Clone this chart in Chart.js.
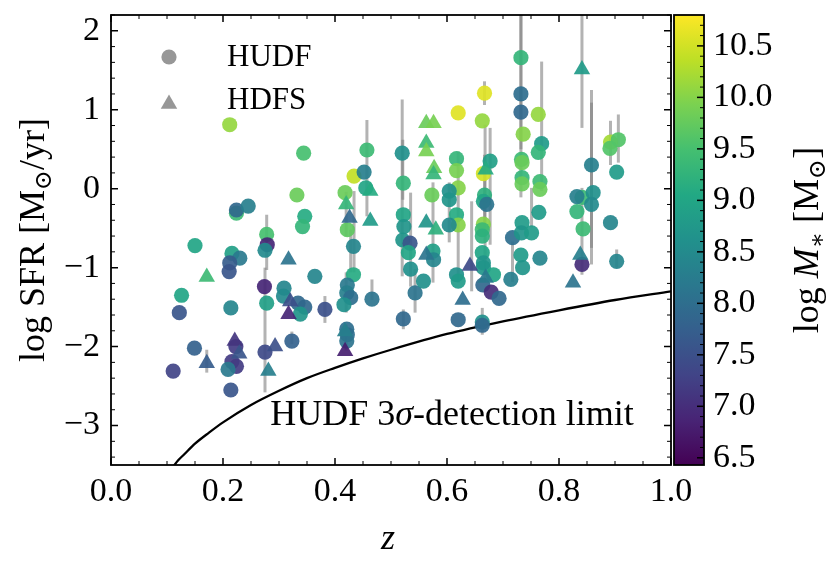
<!DOCTYPE html>
<html>
<head>
<meta charset="utf-8">
<script src="https://cdn.jsdelivr.net/npm/chart.js@4.4.1/dist/chart.umd.min.js"></script>
<style>
  html, body { margin: 0; padding: 0; background: #fff; }
</style>
</head>
<body>
<canvas id="chart" width="831" height="562"></canvas>
<script>
// HUDF galaxies (circles): redshift, log SFR, log stellar mass
const hudfZ = [0.212, 0.344, 0.457, 0.434, 0.452, 0.455, 0.418, 0.332, 0.422, 0.224,
  0.224, 0.245, 0.346, 0.342, 0.278, 0.279, 0.275, 0.150, 0.216, 0.230,
  0.212, 0.211, 0.364, 0.274, 0.309, 0.308, 0.126, 0.278, 0.334, 0.346,
  0.338, 0.214, 0.122, 0.382, 0.433, 0.433, 0.422, 0.421, 0.428, 0.416,
  0.466, 0.421, 0.422, 0.421, 0.223, 0.216, 0.224, 0.209, 0.214, 0.149,
  0.111, 0.275, 0.323, 0.520, 0.522, 0.522, 0.523, 0.521, 0.534, 0.531,
  0.535, 0.543, 0.522, 0.573, 0.575, 0.576, 0.558, 0.620, 0.617, 0.617,
  0.620, 0.604, 0.604, 0.617, 0.620, 0.604, 0.617, 0.620, 0.620, 0.667,
  0.663, 0.677, 0.665, 0.667, 0.665, 0.671, 0.665, 0.663, 0.663, 0.663,
  0.665, 0.665, 0.683, 0.664, 0.679, 0.693, 0.663, 0.663, 0.732, 0.732,
  0.732, 0.736, 0.733, 0.734, 0.734, 0.734, 0.763, 0.769, 0.763, 0.766,
  0.766, 0.764, 0.717, 0.714, 0.734, 0.733, 0.751, 0.732, 0.735, 0.766,
  0.892, 0.906, 0.891, 0.903, 0.858, 0.841, 0.832, 0.861, 0.858, 0.832,
  0.843, 0.892, 0.841, 0.903];
const hudfSfr = [0.81, 0.45, 0.49, 0.16, 0.21, 0.01, -0.05, -0.08, -0.52, -0.31,
  -0.27, -0.22, -0.35, -0.48, -0.58, -0.71, -0.78, -0.72, -0.82, -0.88,
  -0.94, -1.05, -1.11, -1.24, -1.26, -1.36, -1.35, -1.45, -1.45, -1.50,
  -1.59, -1.51, -1.57, -1.53, -0.73, -1.09, -1.22, -1.32, -1.38, -1.47,
  -1.40, -1.78, -1.85, -1.93, -2.00, -2.19, -2.25, -2.29, -2.55, -2.02,
  -2.31, -2.07, -1.93, 0.45, 0.07, -0.33, -0.48, -0.65, -0.69, -0.81,
  -1.02, -1.32, -1.65, -0.08, -0.79, -0.90, -1.17, 0.96, 0.38, 0.23,
  0.01, -0.03, -0.14, -0.33, -0.46, -0.46, -1.09, -1.17, -1.66, 1.21,
  0.86, 0.35, 0.19, -0.08, -0.16, -0.20, -0.45, -0.52, -0.60, -0.81,
  -0.94, -1.00, -1.09, -1.22, -1.31, -1.39, -1.69, -1.73, 1.66, 1.20,
  0.97, 0.69, 0.37, 0.33, 0.14, 0.06, 0.94, 0.57, 0.46, 0.09,
  -0.01, -0.30, -0.62, -1.15, -0.43, -0.56, -0.56, -0.84, -1.00, -0.88,
  0.59, 0.62, 0.51, 0.21, 0.30, -0.11, -0.10, -0.05, -0.20, -0.29,
  -0.51, -0.43, -0.96, -0.92];
const hudfMass = [10.1, 9.5, 9.4, 10.4, 8.3, 9.0, 9.8, 9.8, 9.7, 9.4,
  7.9, 8.3, 9.1, 9.3, 9.5, 6.9, 8.5, 9.0, 8.9, 8.2,
  7.7, 7.6, 8.4, 6.9, 8.4, 8.5, 9.0, 8.9, 7.9, 7.9,
  8.7, 8.4, 7.6, 7.5, 8.4, 9.1, 8.2, 8.3, 8.0, 8.6,
  8.1, 8.0, 8.0, 8.1, 7.2, 7.2, 7.2, 8.2, 7.6, 7.8,
  7.3, 7.4, 7.8, 8.6, 9.3, 9.0, 8.7, 8.7, 7.6, 9.0,
  8.6, 8.1, 7.9, 9.8, 8.9, 8.4, 8.6, 10.6, 9.3, 9.9,
  10.0, 8.6, 8.7, 9.1, 10.0, 8.5, 8.6, 8.8, 7.9, 10.6,
  10.1, 8.9, 10.5, 9.2, 9.0, 8.1, 10.0, 9.4, 9.2, 9.0,
  8.7, 8.7, 9.0, 7.9, 7.0, 7.9, 8.6, 7.9, 9.3, 8.0,
  7.9, 10.0, 9.4, 9.8, 9.3, 9.8, 10.1, 8.8, 9.3, 9.4,
  9.8, 8.8, 8.0, 8.3, 8.8, 8.7, 8.8, 8.8, 8.7, 8.4,
  10.2, 9.6, 9.6, 8.8, 8.3, 9.4, 8.3, 8.6, 8.5, 9.3,
  9.4, 8.4, 7.0, 8.4];

// HDFS galaxies (triangles)
const hdfsZ = [0.420, 0.426, 0.463, 0.463, 0.171, 0.317, 0.320, 0.317, 0.418, 0.418,
  0.221, 0.229, 0.171, 0.293, 0.281, 0.563, 0.576, 0.563, 0.563, 0.577,
  0.576, 0.563, 0.580, 0.563, 0.628, 0.641, 0.669, 0.669, 0.841, 0.838,
  0.825];
const hdfsSfr = [-0.20, -0.37, -0.41, -0.03, -1.12, -0.90, -1.43, -1.59, -1.81, -2.06,
  -1.93, -2.09, -2.21, -2.00, -2.31, 0.83, 0.83, 0.58, 0.47, 0.26,
  0.18, -0.43, -0.52, -0.84, -1.41, -0.98, 0.24, -1.13, 1.51, -0.84,
  -1.19];
const hdfsMass = [9.3, 7.9, 8.8, 9.1, 9.4, 8.1, 7.5, 6.9, 8.3, 6.8,
  7.1, 7.6, 7.7, 7.5, 8.3, 9.8, 9.9, 9.4, 9.9, 9.8,
  9.3, 8.7, 9.2, 8.1, 8.0, 7.4, 9.1, 8.2, 8.8, 8.3,
  8.1];

// SFR uncertainties (vertical bars): redshift, lower and upper log SFR
const barZ = [0.457, 0.434, 0.428, 0.466, 0.420, 0.420, 0.420, 0.520, 0.521, 0.535,
  0.543, 0.575, 0.604, 0.620, 0.667, 0.668, 0.667, 0.677, 0.663, 0.644,
  0.732, 0.732, 0.769, 0.717, 0.751, 0.841, 0.858, 0.858, 0.892, 0.906,
  0.841, 0.903, 0.278, 0.275, 0.171, 0.382, 0.323, 0.522];
const barLo = [-0.35, -1.06, -1.06, -1.41, -1.57, -0.60, -2.05, -1.11, -0.14, -1.24,
  -1.57, -1.19, -0.68, -1.19, 1.06, -1.18, -0.54, -0.71, -1.85, -1.30,
  -0.11, 0.50, -0.03, -1.18, -0.49, 0.77, -0.96, -0.75, 0.30, 0.33,
  -1.09, -1.00, -1.03, -2.58, -2.33, -1.70, -1.97, -1.78];
const barHi = [0.87, -0.03, -0.52, -1.15, -1.06, -0.04, -1.72, 1.13, 0.62, -0.05,
  -1.02, 0.08, 0.08, 0.47, 1.36, 0.81, 0.43, 0.77, -1.51, -0.16,
  2.30, 2.30, 1.61, -0.67, 0.01, 2.30, 1.25, 1.09, 0.86, 0.94,
  0.01, -0.77, -0.33, -1.00, -2.04, -1.36, -1.81, -1.53];

// HUDF 3-sigma detection limit
const limitZ = [0.11, 0.12, 0.13, 0.15, 0.175, 0.2, 0.25, 0.3, 0.35, 0.4,
  0.45, 0.5, 0.6, 0.7, 0.8, 0.9, 1.0];
const limitSfr = [-3.53, -3.44, -3.37, -3.23, -3.09, -2.96, -2.74, -2.56, -2.40, -2.27,
  -2.15, -2.04, -1.84, -1.68, -1.54, -1.41, -1.30];

// tick labels
const xTicks = [0, 0.2, 0.4, 0.6, 0.8, 1.0];
const yTicks = [-3, -2, -1, 0, 1, 2];
const massTicks = [6.5, 7.0, 7.5, 8.0, 8.5, 9.0, 9.5, 10.0, 10.5];

const M_MIN = 6.43, M_MAX = 10.8;
const SERIF = "'Liberation Serif', 'DejaVu Serif', serif";

const VIRIDIS = [
  [68, 1, 84], [72, 36, 117], [65, 68, 135], [53, 95, 141], [42, 120, 142],
  [33, 145, 140], [34, 168, 132], [68, 191, 112], [122, 209, 81], [189, 223, 38], [253, 231, 37],
];

function viridis(t) {
  t = Math.min(1, Math.max(0, t));
  const n = VIRIDIS.length - 1;
  const i = Math.min(n - 1, Math.floor(t * n));
  const u = t * n - i;
  const a = VIRIDIS[i], b = VIRIDIS[i + 1];
  return a.map((v, k) => Math.round(v + (b[k] - v) * u));
}

function massColor(m, alpha) {
  const c = viridis((m - M_MIN) / (M_MAX - M_MIN));
  return `rgba(${c[0]},${c[1]},${c[2]},${alpha})`;
}

function minus(v) {
  return v < 0 ? '\u2212' + Math.abs(v) : String(v);
}

// draw a run of text pieces (for sub/superscripts), centred on cx, cy
function drawRich(ctx, parts, cx, cy, angle) {
  ctx.save();
  ctx.translate(cx, cy);
  ctx.rotate(angle);
  ctx.textBaseline = 'alphabetic';
  ctx.textAlign = 'left';
  let total = 0;
  parts.forEach((p) => {
    ctx.font = p.font;
    total += ctx.measureText(p.t).width;
  });
  let xx = -total / 2;
  parts.forEach((p) => {
    ctx.font = p.font;
    ctx.fillText(p.t, xx, (p.dy || 0) + 12);
    xx += ctx.measureText(p.t).width;
  });
  ctx.restore();
}

const decorations = {
  id: 'decorations',
  beforeDatasetsDraw(chart) {
    const { ctx, chartArea: a, scales: { x, y } } = chart;
    ctx.save();
    ctx.beginPath();
    ctx.rect(a.left, a.top, a.width, a.height);
    ctx.clip();
    ctx.strokeStyle = 'rgba(128,128,128,0.6)';
    ctx.lineWidth = 3;
    barZ.forEach((z, i) => {
      const px = x.getPixelForValue(z);
      ctx.beginPath();
      ctx.moveTo(px, y.getPixelForValue(barLo[i]));
      ctx.lineTo(px, y.getPixelForValue(barHi[i]));
      ctx.stroke();
    });
    ctx.restore();
  },
  afterDraw(chart) {
    const { ctx, chartArea: a, scales: { x, y, yMass } } = chart;
    ctx.save();
    ctx.strokeStyle = '#000';

    // inward ticks on all four sides
    for (let k = 0; k <= 20; k++) {
      const px = x.getPixelForValue(k * 0.05);
      const len = k % 4 === 0 ? 7 : 4;
      ctx.lineWidth = k % 4 === 0 ? 1.5 : 1;
      ctx.beginPath();
      ctx.moveTo(px, a.bottom); ctx.lineTo(px, a.bottom - len);
      ctx.moveTo(px, a.top); ctx.lineTo(px, a.top + len);
      ctx.stroke();
    }
    for (let k = -17; k <= 11; k++) {
      const py = y.getPixelForValue(k * 0.2);
      const len = k % 5 === 0 ? 7 : 4;
      ctx.lineWidth = k % 5 === 0 ? 1.5 : 1;
      ctx.beginPath();
      ctx.moveTo(a.left, py); ctx.lineTo(a.left + len, py);
      ctx.moveTo(a.right, py); ctx.lineTo(a.right - len, py);
      ctx.stroke();
    }
    ctx.lineWidth = 1.8;
    ctx.strokeRect(a.left, a.top, a.width, a.height);

    // colour bar
    const cbx = a.right + 3, cbw = 30;
    const grad = ctx.createLinearGradient(0, a.bottom, 0, a.top);
    VIRIDIS.forEach((c, i) => grad.addColorStop(i / (VIRIDIS.length - 1), `rgb(${c[0]},${c[1]},${c[2]})`));
    ctx.fillStyle = grad;
    ctx.fillRect(cbx, a.top, cbw, a.height);
    for (let k = 65; k <= 107; k++) {
      const py = yMass.getPixelForValue(k / 10);
      const len = k % 5 === 0 ? 7 : 4;
      ctx.lineWidth = k % 5 === 0 ? 1.5 : 1;
      ctx.beginPath();
      ctx.moveTo(cbx + cbw, py); ctx.lineTo(cbx + cbw - len, py);
      ctx.stroke();
    }
    ctx.lineWidth = 1.8;
    ctx.strokeRect(cbx, a.top, cbw, a.height);

    // legend
    ctx.fillStyle = 'rgba(140,140,140,0.9)';
    ctx.beginPath();
    ctx.arc(a.left + 58, a.top + 42, 7.6, 0, Math.PI * 2);
    ctx.fill();
    const tx = a.left + 58, ty = a.top + 89, r = 9.5;
    ctx.beginPath();
    ctx.moveTo(tx, ty - r);
    ctx.lineTo(tx + r * 0.866, ty + r / 2);
    ctx.lineTo(tx - r * 0.866, ty + r / 2);
    ctx.closePath();
    ctx.fill();
    ctx.fillStyle = '#000';
    ctx.font = `31px ${SERIF}`;
    ctx.textBaseline = 'middle';
    ctx.textAlign = 'left';
    ctx.fillText('HUDF', a.left + 116, a.top + 43);
    ctx.fillText('HDFS', a.left + 116, a.top + 86);

    // detection limit label
    drawRich(ctx, [
      { t: 'HUDF 3', font: `36px ${SERIF}` },
      { t: '\u03c3', font: `italic 36px ${SERIF}` },
      { t: '-detection limit', font: `36px ${SERIF}` },
    ], a.left + 341, a.top + 398, 0);

    // axis titles
    drawRich(ctx, [{ t: 'z', font: `italic 36px ${SERIF}` }], (a.left + a.right) / 2 - 3, 537, 0);
    drawRich(ctx, [
      { t: 'log SFR [M', font: `36px ${SERIF}` },
      { t: '\u2299', font: `24px ${SERIF}`, dy: 7 },
      { t: '/yr]', font: `36px ${SERIF}` },
    ], 32, (a.top + a.bottom) / 2, -Math.PI / 2);
    drawRich(ctx, [
      { t: 'log ', font: `36px ${SERIF}` },
      { t: 'M', font: `italic 36px ${SERIF}` },
      { t: '\u2217', font: `24px ${SERIF}`, dy: 7 },
      { t: ' [M', font: `36px ${SERIF}` },
      { t: '\u2299', font: `24px ${SERIF}`, dy: 7 },
      { t: ']', font: `36px ${SERIF}` },
    ], 806, (a.top + a.bottom) / 2, -Math.PI / 2);
    ctx.restore();
  },
};

const tickFont = { family: SERIF, size: 34 };

new Chart(document.getElementById('chart'), {
  type: 'scatter',
  data: {
    datasets: [
      {
        label: 'HDFS',
        data: hdfsZ.map((z, i) => ({ x: z, y: hdfsSfr[i] })),
        pointStyle: 'triangle',
        pointRadius: 9.5,
        backgroundColor: hdfsMass.map((m) => massColor(m, 0.92)),
        borderWidth: 0,
        order: 1,
      },
      {
        label: 'HUDF',
        data: hudfZ.map((z, i) => ({ x: z, y: hudfSfr[i] })),
        pointStyle: 'circle',
        pointRadius: 7.6,
        backgroundColor: hudfMass.map((m) => massColor(m, 0.92)),
        borderWidth: 0,
        order: 2,
      },
      {
        type: 'line',
        label: 'HUDF 3σ-detection limit',
        data: limitZ.map((z, i) => ({ x: z, y: limitSfr[i] })),
        borderColor: '#000',
        borderWidth: 2.3,
        pointRadius: 0,
        cubicInterpolationMode: 'monotone',
        fill: false,
        order: 3,
      },
    ],
  },
  plugins: [decorations],
  options: {
    responsive: false,
    animation: false,
    layout: { padding: { top: 15, left: 0, right: 0, bottom: 0 } },
    plugins: { legend: { display: false }, tooltip: { enabled: false } },
    scales: {
      x: {
        type: 'linear',
        min: 0,
        max: 1,
        afterBuildTicks(s) { s.ticks = xTicks.map((v) => ({ value: v })); },
        afterFit(s) { s.height = 97; s.paddingLeft = 0; s.paddingRight = 0; },
        grid: { display: false, drawTicks: false },
        border: { display: false },
        ticks: { font: tickFont, color: '#000', padding: 7, maxRotation: 0, callback: (v) => v.toFixed(1) },
      },
      y: {
        type: 'linear',
        min: -3.5,
        max: 2.2,
        afterBuildTicks(s) { s.ticks = yTicks.map((v) => ({ value: v })); },
        afterFit(s) { s.width = 111; s.paddingTop = 0; s.paddingBottom = 0; },
        grid: { display: false, drawTicks: false },
        border: { display: false },
        ticks: { font: tickFont, color: '#000', padding: 11, callback: (v) => minus(v) },
      },
      yMass: {
        type: 'linear',
        position: 'right',
        min: M_MIN,
        max: M_MAX,
        afterBuildTicks(s) { s.ticks = massTicks.map((v) => ({ value: v })); },
        afterFit(s) { s.width = 160; s.paddingTop = 0; s.paddingBottom = 0; },
        grid: { display: false, drawTicks: false },
        border: { display: false },
        ticks: { font: tickFont, color: '#000', padding: 42, callback: (v) => v.toFixed(1) },
      },
    },
  },
});
</script>
</body>
</html>
